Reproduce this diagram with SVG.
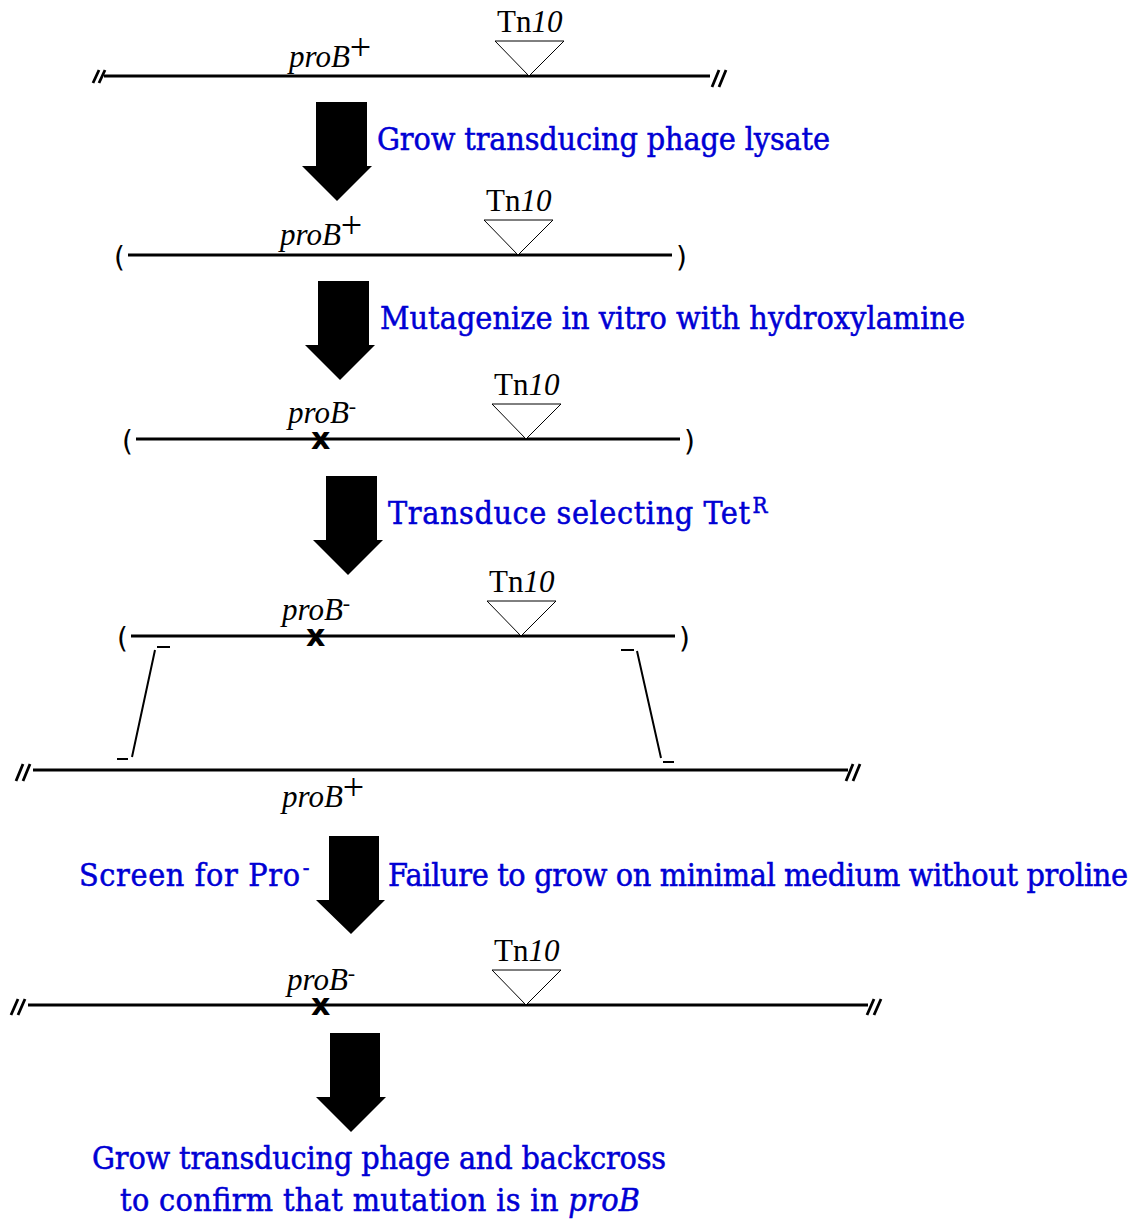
<svg xmlns="http://www.w3.org/2000/svg" width="1146" height="1219" viewBox="0 0 1146 1219">
<style>
.bg{fill:#fff}
.dna{stroke:#000;stroke-width:3;fill:none}
.brk{stroke:#000;stroke-width:2.8;fill:none}
.tn{stroke:#000;stroke-width:1;fill:#fff}
.lbl{font-family:"Liberation Serif","Times New Roman",serif;font-size:31px;fill:#000}
.gene{font-family:"Liberation Serif","Times New Roman",serif;font-size:31px;font-style:italic;fill:#000}
.par{font-family:"DejaVu Sans","Liberation Sans",sans-serif;font-size:28px;fill:#000}
.mut{font-family:"DejaVu Sans","Liberation Sans",sans-serif;font-size:30px;font-weight:bold;fill:#000}
.step{font-family:"DejaVu Serif Condensed","DejaVu Serif",serif;font-stretch:condensed;font-size:32px;fill:#0000d4;stroke:#0000d4;stroke-width:0.5}
.arrow{fill:#000;stroke:none}
.xo{stroke:#000;stroke-width:2;fill:none}
</style>
<rect class="bg" x="0" y="0" width="1146" height="1219"/>

<g id="chrom1">
<line class="dna" x1="104" y1="76" x2="710" y2="76"/>
<path class="brk" d="M93 83 L99 70 M99 83 L105 70"/>
<path class="brk" d="M712 87 L719 70 M719 87 L726 70"/>
<polygon class="tn" points="495,41 564,41 529,76"/>
<text class="lbl" x="497" y="32">Tn<tspan font-style="italic">10</tspan></text>
<text class="gene" x="289" y="67">proB<tspan font-style="normal" font-size="38" dy="-7">+</tspan></text>
</g>

<g id="chrom2">
<line class="dna" x1="128" y1="255" x2="672" y2="255"/>
<text class="par" x="114" y="267">(</text>
<text class="par" x="676" y="267">)</text>
<polygon class="tn" points="484,220 553,220 518,255"/>
<text class="lbl" x="486" y="211">Tn<tspan font-style="italic">10</tspan></text>
<text class="gene" x="280" y="245">proB<tspan font-style="normal" font-size="38" dy="-7">+</tspan></text>
</g>

<g id="chrom3">
<line class="dna" x1="136" y1="439" x2="680" y2="439"/>
<text class="par" x="122" y="451">(</text>
<text class="par" x="684" y="451">)</text>
<polygon class="tn" points="492,404 561,404 526,439"/>
<text class="lbl" x="494" y="395">Tn<tspan font-style="italic">10</tspan></text>
<text class="gene" x="288" y="423">proB<tspan font-style="normal" font-size="22" dy="-10">-</tspan></text>
<text class="mut" x="311" y="449">x</text>
</g>

<g id="chrom4">
<line class="dna" x1="131" y1="636" x2="675" y2="636"/>
<text class="par" x="117" y="648">(</text>
<text class="par" x="679" y="648">)</text>
<polygon class="tn" points="487,601 556,601 521,636"/>
<text class="lbl" x="489" y="592">Tn<tspan font-style="italic">10</tspan></text>
<text class="gene" x="282" y="620">proB<tspan font-style="normal" font-size="22" dy="-10">-</tspan></text>
<text class="mut" x="306" y="646">x</text>
</g>

<g id="crossover">
<path class="xo" d="M157 647 L170 647 M155 650 L132 757 M117 759 L128 759"/>
<path class="xo" d="M621 650 L634 650 M637 651 L661 758 M663 762 L674 762"/>
</g>

<g id="recipient">
<line class="dna" x1="33" y1="770" x2="848" y2="770"/>
<path class="brk" d="M16 781 L23 764 M23 781 L30 764"/>
<path class="brk" d="M846 781 L853 764 M853 781 L860 764"/>
<text class="gene" x="282" y="807">proB<tspan font-style="normal" font-size="38" dy="-7">+</tspan></text>
</g>

<g id="chrom5">
<line class="dna" x1="28" y1="1005" x2="868" y2="1005"/>
<path class="brk" d="M11 1015 L18 999 M18 1015 L25 999"/>
<path class="brk" d="M867 1015 L874 999 M874 1015 L881 999"/>
<polygon class="tn" points="492,970 561,970 526,1005"/>
<text class="lbl" x="494" y="961">Tn<tspan font-style="italic">10</tspan></text>
<text class="gene" x="287" y="990">proB<tspan font-style="normal" font-size="22" dy="-10">-</tspan></text>
<text class="mut" x="311" y="1015">x</text>
</g>

<g id="step1"><text class="step" x="377" y="150" textLength="453">Grow transducing phage lysate</text></g>
<g id="step2"><text class="step" x="380" y="329" textLength="585">Mutagenize in vitro with hydroxylamine</text></g>
<g id="step3"><text class="step" x="388" y="524"><tspan textLength="362">Transduce selecting Tet</tspan><tspan font-size="22" dx="2" dy="-11">R</tspan></text></g>
<g id="step4a"><text class="step" x="79" y="886"><tspan textLength="221">Screen for Pro</tspan><tspan font-size="22" dx="2" dy="-11">-</tspan></text></g>
<g id="step4b"><text class="step" x="388" y="886" textLength="740">Failure to grow on minimal medium without proline</text></g>
<g id="step5"><text class="step" x="92" y="1169" textLength="574">Grow transducing phage and backcross</text>
<text class="step" x="120" y="1211" textLength="520">to confirm that mutation is in <tspan font-style="italic">proB</tspan></text></g>

<g id="connectors">
<polygon class="arrow" points="316,102 367,102 367,166 372,166 337,201 302,166 316,166"/>
<polygon class="arrow" points="318,281 369,281 369,345 375,345 340,380 305,345 318,345"/>
<polygon class="arrow" points="326,476 377,476 377,540 383,540 348,575 313,540 326,540"/>
<polygon class="arrow" points="329,836 379,836 379,900 385,900 351,934 316,900 329,900"/>
<polygon class="arrow" points="330,1033 380,1033 380,1097 386,1097 351,1132 316,1097 330,1097"/>
</g>
</svg>
